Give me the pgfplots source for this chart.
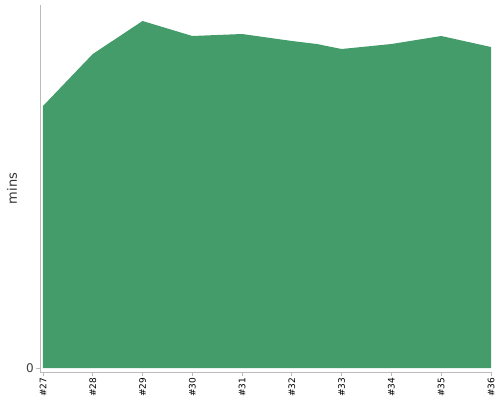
\documentclass[border=0pt]{standalone}
\usepackage{pgfplots}
\pgfplotsset{compat=1.18}
\usepackage{fontspec}
\setmainfont{DejaVu Sans}
\definecolor{areagreen}{HTML}{449C6B}
\definecolor{axgray}{HTML}{BBBBBB}
\begin{document}
\begin{tikzpicture}[x=1pt,y=1pt]
\path[use as bounding box] (0,0) rectangle (500,400);
\begin{axis}[
  at={(40pt,28pt)}, anchor=south west,
  scale only axis, width=451pt, height=367pt,
  xmin=26.94, xmax=36, ymin=-4, ymax=363,
  axis lines*=left,
  axis line style={draw=axgray, line width=0.8pt},
  /pgf/number format/assume math mode=true,
  xtick={27,...,36},
  xticklabels={\#27,\#28,\#29,\#30,\#31,\#32,\#33,\#34,\#35,\#36},
  x tick label style={rotate=90, anchor=east, font=\fontsize{9}{10}\selectfont, text=black, inner sep=1.5pt},
  ytick={0},
  y tick label style={font=\fontsize{12}{13}\selectfont, text=black!75, inner sep=2pt},
  major tick length=4pt,
  tick style={draw=axgray, line width=0.8pt},
  tick align=outside,
  ylabel={mins},
  ylabel style={font=\fontsize{13}{14}\selectfont, text=black!80, at={(axis description cs:-0.062,0.5)}, anchor=center, rotate=0},
  clip=false,
]
\addplot[fill=areagreen, draw=none] coordinates {
(27,262) (27.5,288) (28,314) (29,347) (30,332) (31,334) (32,327) (32.5,324) (33,319) (34,324) (35,332) (36,321)
} \closedcycle;
\end{axis}
\end{tikzpicture}
\end{document}
